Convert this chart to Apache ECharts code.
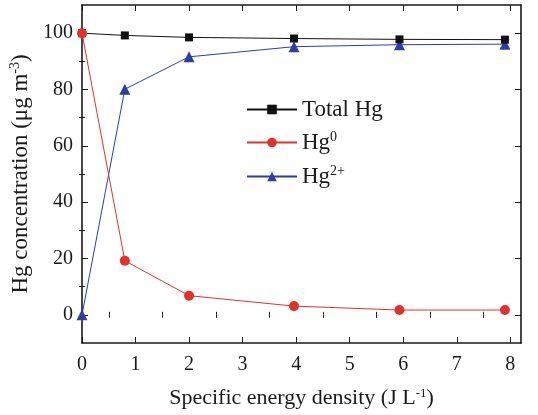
<!DOCTYPE html>
<html>
<head>
<meta charset="utf-8">
<script src="https://cdn.jsdelivr.net/npm/echarts@6/dist/echarts.min.js"></script>
<style>
  html, body { margin: 0; padding: 0; background: #fff; }
  #chart { width: 538px; height: 415px; }
</style>
</head>
<body>
<div id="chart"></div>
<script>
// Specific energy density (J/L)
const energy = [0, 0.8, 2.0, 3.96, 5.93, 7.9];
// Hg concentrations (ug/m3)
const totalHg = [100, 99.2, 98.5, 98.1, 97.8, 97.7];
const hg0 = [100, 19.2, 6.8, 3.1, 1.7, 1.7];
const hg2 = [0, 80.1, 91.6, 95.2, 95.9, 96.1];

const seriesNames = ['Total Hg', 'Hg0', 'Hg2+'];
const legendLabels = {
  'Total Hg': 'Total Hg',
  'Hg0': 'Hg{sup|0}',
  'Hg2+': 'Hg{sup|2+}'
};

const xMajor = [0, 1, 2, 3, 4, 5, 6, 7, 8];
const xMinor = [0.5, 1.5, 2.5, 3.5, 4.5, 5.5, 6.5, 7.5];
const yMajor = [0, 20, 40, 60, 80, 100];
const yMinor = [10, 30, 50, 70, 90];

const FONT = '"Liberation Serif", "Times New Roman", serif';
const INK = '#1a1a1a';
const xRange = { min: 0, max: 8.2 };
const yRange = { min: -10, max: 110 };

function pts(ys) { return energy.map((x, i) => [x, ys[i]]); }

function supStyle(size, lift) {
  return { fontFamily: FONT, fontSize: size, color: INK, verticalAlign: 'top', padding: [0, 0, lift, 0] };
}

function tickAxis(base, values, len, withLabels, position, margin) {
  return Object.assign({
    type: 'value',
    position: position,
    axisLine: { show: false },
    splitLine: { show: false },
    axisTick: { show: true, inside: true, length: len, customValues: values,
                lineStyle: { color: INK, width: 1 } },
    axisLabel: withLabels
      ? { show: true, customValues: values, fontFamily: FONT, fontSize: 20, color: INK, margin: margin }
      : { show: false }
  }, base);
}

const frameLine = { show: true, onZero: false, lineStyle: { color: INK, width: 1.6 } };

const chart = echarts.init(document.getElementById('chart'), null, { renderer: 'canvas' });

const xAxes = [
  Object.assign(tickAxis(xRange, xMajor, 6, true, 'bottom', 12), {
    axisLine: frameLine,
    name: 'Specific energy density (J L{sup|-1})',
    nameLocation: 'middle',
    nameGap: 44,
    nameTextStyle: { fontFamily: FONT, fontSize: 22, color: INK, rich: { sup: supStyle(13, 10) } }
  }),
  tickAxis(xRange, xMinor, 3, false, 'bottom'),
  Object.assign(tickAxis(xRange, xMajor, 6, false, 'top'), { axisLine: frameLine }),
  tickAxis(xRange, xMinor, 3, false, 'top')
];

const yAxes = [
  Object.assign(tickAxis(yRange, yMajor, 6, true, 'left', 9), {
    axisLine: frameLine,
    name: 'Hg concentration (\u03bcg m{sup|-3})',
    nameLocation: 'middle',
    nameGap: 42,
    nameTextStyle: { fontFamily: FONT, fontSize: 23, color: INK, rich: { sup: supStyle(14, 11) } }
  }),
  tickAxis(yRange, yMinor, 3, false, 'left'),
  Object.assign(tickAxis(yRange, yMajor, 6, false, 'right'), { axisLine: frameLine }),
  tickAxis(yRange, yMinor, 3, false, 'right')
];

function legendFor(name, top) {
  return {
    data: [name],
    left: 246,
    top: top,
    orient: 'vertical',
    itemWidth: 50,
    itemHeight: 12,
    itemGap: 0,
    padding: 0,
    selectedMode: false,
    formatter: n => legendLabels[n],
    textStyle: { fontFamily: FONT, fontSize: 23, color: INK, rich: { sup: supStyle(14, 11) } }
  };
}

chart.setOption({
  animation: false,
  backgroundColor: '#fff',
  grid: { left: 82, right: 17, top: 5, bottom: 72, containLabel: false },
  xAxis: xAxes,
  yAxis: yAxes,
  legend: [legendFor('Total Hg', 98), legendFor('Hg0', 130), legendFor('Hg2+', 164)],
  series: [
    { name: seriesNames[0], type: 'line', data: pts(totalHg), symbol: 'rect', symbolSize: 8,
      color: '#111', lineStyle: { color: '#111', width: 1 }, itemStyle: { color: '#111' }, z: 3 },
    { name: seriesNames[1], type: 'line', data: pts(hg0), symbol: 'circle', symbolSize: 10,
      color: '#e3302a', lineStyle: { color: '#e3302a', width: 1 }, itemStyle: { color: '#e3302a' }, z: 4 },
    { name: seriesNames[2], type: 'line', data: pts(hg2), symbol: 'triangle', symbolSize: 11,
      color: '#2a3fa6', lineStyle: { color: '#2a3fa6', width: 1 }, itemStyle: { color: '#2a3fa6' }, z: 2 }
  ]
});
</script>
</body>
</html>
